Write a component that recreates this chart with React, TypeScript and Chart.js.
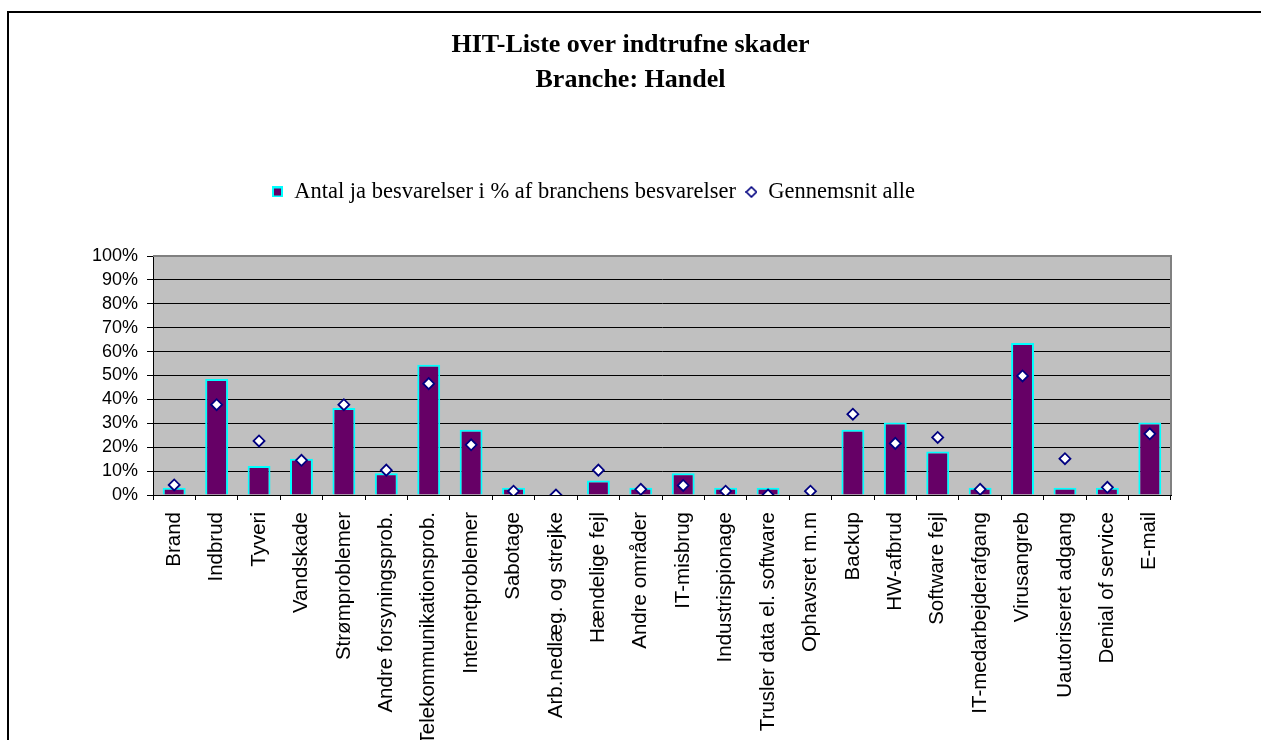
import React, { useEffect, useRef } from 'react';
import { Chart, registerables } from 'chart.js';

Chart.register(...registerables);

const categories = [
  'Brand',
  'Indbrud',
  'Tyveri',
  'Vandskade',
  'Strømproblemer',
  'Andre forsyningsprob.',
  'Telekommunikationsprob.',
  'Internetproblemer',
  'Sabotage',
  'Arb.nedlæg. og strejke',
  'Hændelige fejl',
  'Andre områder',
  'IT-misbrug',
  'Industrispionage',
  'Trusler data el. software',
  'Ophavsret m.m',
  'Backup',
  'HW-afbrud',
  'Software fejl',
  'IT-medarbejderafgang',
  'Virusangreb',
  'Uautoriseret adgang',
  'Denial of service',
  'E-mail',
];

const antalJa = [
  3.0, 48.5, 12.1, 15.2, 36.4, 9.1, 54.5, 27.3, 3.0, 0, 6.1, 3.0,
  9.1, 3.0, 3.0, 0, 27.3, 30.3, 18.2, 3.0, 63.6, 3.0, 3.0, 30.3,
];

const gennemsnit = [
  4.2, 37.8, 22.6, 14.5, 37.8, 10.4, 46.6, 21.0, 1.6, 0, 10.4, 2.4,
  4.0, 1.6, 0, 1.6, 33.8, 21.6, 24.1, 2.4, 49.8, 15.2, 3.2, 25.6,
];

const titleLines = ['HIT-Liste over indtrufne skader', 'Branche: Handel'];
const seriesNames = ['Antal ja besvarelser i % af branchens besvarelser', 'Gennemsnit alle'];
const yMin = 0;
const yMax = 100;
const yStep = 10;

const BAR_FILL = '#660066';
const BAR_EDGE = '#00FFFF';
const DIA_EDGE = '#000080';

function makeSquareIcon(): HTMLCanvasElement {
  const c = document.createElement('canvas');
  c.width = 11;
  c.height = 11;
  const g = c.getContext('2d')!;
  g.fillStyle = BAR_EDGE;
  g.fillRect(0, 0, 11, 11);
  g.fillStyle = BAR_FILL;
  g.fillRect(2, 2, 7, 7);
  return c;
}

function makeDiamondIcon(): HTMLCanvasElement {
  const c = document.createElement('canvas');
  c.width = 12;
  c.height = 12;
  const g = c.getContext('2d')!;
  g.beginPath();
  g.moveTo(6, 1);
  g.lineTo(11, 6);
  g.lineTo(6, 11);
  g.lineTo(1, 6);
  g.closePath();
  g.fillStyle = '#fff';
  g.fill();
  g.lineWidth = 1.6;
  g.strokeStyle = DIA_EDGE;
  g.stroke();
  return c;
}

export default function App() {
  const ref = useRef<HTMLCanvasElement | null>(null);

  useEffect(() => {
    if (!ref.current) return;
    const squareIcon = makeSquareIcon();
    const diamondIcon = makeDiamondIcon();

    const plotFrame = {
      id: 'plotFrame',
      beforeInit(chart: any) {
        const lg = chart.legend;
        if (lg) {
          const origFit = lg.fit;
          lg.fit = function () {
            origFit.call(this);
            this.height += 42.8;
          };
        }
      },
      afterLayout(chart: any) {
        const lg = chart.legend;
        if (lg) {
          const w = lg.right - lg.left;
          lg.left = 262;
          lg.right = lg.left + w;
        }
      },
      beforeDraw(chart: any) {
        const { ctx, chartArea: a } = chart;
        ctx.save();
        ctx.fillStyle = '#C0C0C0';
        ctx.fillRect(a.left, a.top, a.right - a.left, a.bottom - a.top);
        ctx.restore();
      },
      afterDatasetsDraw(chart: any) {
        const { ctx, chartArea: a } = chart;
        ctx.save();
        ctx.strokeStyle = '#808080';
        ctx.lineWidth = 2;
        ctx.beginPath();
        ctx.moveTo(a.left, a.top);
        ctx.lineTo(a.right, a.top);
        ctx.lineTo(a.right, a.bottom);
        ctx.stroke();
        ctx.restore();
      },
    };

    const chart = new Chart(ref.current, {
      type: 'bar',
      data: {
        labels: categories,
        datasets: [
          {
            type: 'line',
            label: seriesNames[1],
            data: gennemsnit,
            showLine: false,
            pointStyle: 'rectRot',
            pointRadius: 5.5,
            pointBorderWidth: 1.8,
            pointBackgroundColor: '#ffffff',
            pointBorderColor: DIA_EDGE,
            borderColor: DIA_EDGE,
            backgroundColor: '#ffffff',
          } as any,
          {
            type: 'bar',
            label: seriesNames[0],
            data: antalJa,
            backgroundColor: BAR_FILL,
            borderColor: BAR_EDGE,
            borderWidth: 2,
            barPercentage: 0.54,
            categoryPercentage: 1,
          },
        ],
      },
      options: {
        responsive: false,
        animation: false,
        devicePixelRatio: 1,
        layout: { padding: 0 },
        plugins: {
          title: {
            display: true,
            text: titleLines,
            color: '#000',
            font: { family: "'Liberation Serif', 'Times New Roman', serif", size: 26, weight: 'bold', lineHeight: 1.35 },
            padding: { top: 27.5, bottom: 73 },
          },
          legend: {
            display: true,
            position: 'top',
            align: 'start',
            labels: {
              usePointStyle: true,
              boxWidth: 11,
              boxHeight: 11,
              padding: 10,
              color: '#000',
              font: { family: "'Liberation Serif', 'Times New Roman', serif", size: 22.5 },
              generateLabels: () => [
                {
                  text: seriesNames[0],
                  datasetIndex: 1,
                  pointStyle: squareIcon as any,
                  fillStyle: BAR_FILL,
                  strokeStyle: BAR_EDGE,
                  lineWidth: 0,
                  hidden: false,
                },
                {
                  text: seriesNames[1],
                  datasetIndex: 0,
                  pointStyle: diamondIcon as any,
                  fillStyle: '#fff',
                  strokeStyle: DIA_EDGE,
                  lineWidth: 0,
                  hidden: false,
                },
              ],
            },
          },
          tooltip: { enabled: false },
        },
        scales: {
          x: {
            type: 'category',
            offset: true,
            grid: {
              display: true,
              offset: true,
              drawOnChartArea: false,
              drawTicks: true,
              tickLength: 5,
              color: '#000',
            },
            border: { display: true, color: '#000', width: 1 },
            ticks: {
              autoSkip: false,
              minRotation: 90,
              maxRotation: 90,
              padding: 12,
              color: '#000',
              font: { family: "'Liberation Sans', Arial, sans-serif", size: 20.5 },
            },
            afterFit: (s: any) => {
              s.height = 245;
            },
          },
          y: {
            type: 'linear',
            position: 'left',
            min: yMin,
            max: yMax,
            ticks: {
              stepSize: yStep,
              autoSkip: false,
              padding: 9,
              color: '#000',
              font: { family: "'Liberation Sans', Arial, sans-serif", size: 18 },
              callback: (v: any) => `${v}%`,
            },
            grid: {
              color: '#000',
              lineWidth: 1,
              drawTicks: true,
              tickLength: 6,
            },
            border: { display: true, color: '#000', width: 1 },
            afterFit: (s: any) => {
              s.width = 153;
            },
          },
          yRight: {
            type: 'linear',
            position: 'right',
            display: true,
            grid: { display: false },
            ticks: { display: false },
            border: { display: false },
            afterFit: (s: any) => {
              s.width = 90;
            },
          },
        },
      },
      plugins: [plotFrame],
    } as any);

    return () => {
      chart.destroy();
    };
  }, []);

  return (
    <div style={{ position: 'absolute', left: 0, top: 0, width: 1261, height: 740, overflow: 'hidden', background: '#fff' }}>
      <div
        style={{
          position: 'absolute',
          left: 7,
          top: 11,
          width: 1254,
          height: 729,
          borderTop: '2px solid #000',
          borderLeft: '2px solid #000',
          boxSizing: 'border-box',
        }}
      />
      <canvas ref={ref} width={1261} height={740} style={{ position: 'absolute', left: 0, top: 0, width: 1261, height: 740 }} />
    </div>
  );
}
